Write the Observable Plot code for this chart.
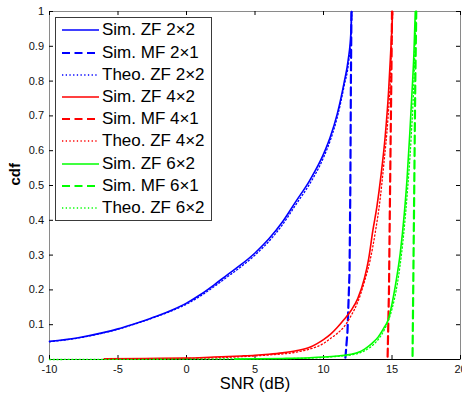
<!DOCTYPE html>
<html>
<head>
<meta charset="utf-8">
<script src="https://cdn.jsdelivr.net/npm/d3@7"></script>
<script src="https://cdn.jsdelivr.net/npm/@observablehq/plot@0.6"></script>
<style>
  html, body { margin: 0; padding: 0; background: white; overflow: hidden; }
  #wrap { position: relative; width: 462px; height: 397px; font-family: "Liberation Sans", Arial, sans-serif; }
  #legend { position: absolute; left: 55px; top: 17px; width: 155px; height: 202px; border: 1px solid #3a3a3a; background: white; }
  .row { position: absolute; left: 0; height: 22px; width: 155px; }
  .row svg { position: absolute; left: 6px; top: 0; }
  .row span { position: absolute; left: 46px; top: 0; line-height: 22px; font-size: 17px; color: #000; white-space: nowrap; }
</style>
</head>
<body>
<div id="wrap"><div id="legend"></div></div>
<script>
// ---- tick labels ----
const xTicks = [-10, -5, 0, 5, 10, 15, 20];
const yTicks = [0, 0.1, 0.2, 0.3, 0.4, 0.5, 0.6, 0.7, 0.8, 0.9, 1];

// ---- series values (SNR dB, cdf) ----
const simZF22_snr = [-10, -8, -6, -5, -4, -3, -2, -1, 0, 1, 2, 3, 4, 5, 6, 7, 8, 9, 10, 10.5, 11, 11.5, 11.8, 12.0, 12.05];
const simZF22_cdf = [0.052, 0.062, 0.078, 0.088, 0.100, 0.113, 0.127, 0.143, 0.162, 0.186, 0.214, 0.244, 0.273, 0.306, 0.346, 0.395, 0.455, 0.515, 0.590, 0.640, 0.705, 0.795, 0.860, 0.940, 1.0];

const simMF21_snr = [11.6, 11.75, 11.9, 11.96, 12.0, 12.04];
const simMF21_cdf = [0.005, 0.08, 0.25, 0.50, 0.80, 1.0];

const theoZF22_snr = [-10, -8, -6, -5, -4, -3, -2, -1, 0, 1, 2, 3, 4, 5, 6, 7, 8, 9, 10, 10.5, 11, 11.5, 11.85, 12.02, 12.07];
const theoZF22_cdf = [0.051, 0.061, 0.077, 0.087, 0.099, 0.112, 0.126, 0.141, 0.159, 0.182, 0.209, 0.238, 0.267, 0.300, 0.339, 0.387, 0.446, 0.505, 0.580, 0.630, 0.695, 0.785, 0.860, 0.940, 1.0];

const simZF42_snr = [-6, -3, 0, 2, 4, 5, 6, 7, 8, 9, 9.5, 10, 10.5, 11, 11.5, 12, 12.5, 13, 13.3, 13.6, 13.9, 14.2, 14.5, 14.75, 14.9, 15.05];
const simZF42_cdf = [0.002, 0.003, 0.004, 0.007, 0.010, 0.012, 0.015, 0.019, 0.025, 0.035, 0.045, 0.057, 0.072, 0.092, 0.115, 0.140, 0.175, 0.235, 0.290, 0.370, 0.440, 0.530, 0.640, 0.770, 0.880, 1.0];

const simMF41_snr = [14.68, 14.78, 14.85, 14.95, 15.0];
const simMF41_cdf = [0.008, 0.20, 0.46, 0.80, 1.0];

const theoZF42_snr = [-6, 0, 4, 6, 8, 9, 10, 10.5, 11, 11.5, 12, 12.5, 13, 13.4, 13.8, 14.1, 14.4, 14.7, 14.9, 15.05];
const theoZF42_cdf = [0.001, 0.003, 0.008, 0.013, 0.021, 0.030, 0.046, 0.060, 0.075, 0.094, 0.125, 0.165, 0.225, 0.285, 0.370, 0.450, 0.560, 0.690, 0.820, 1.0];

const simZF62_snr = [3.5, 5, 7, 9, 10, 11, 12, 12.5, 13, 13.5, 14, 14.4, 14.7, 15.0, 15.3, 15.6, 15.9, 16.1, 16.3, 16.45, 16.6, 16.7];
const simZF62_cdf = [0.001, 0.002, 0.003, 0.005, 0.007, 0.010, 0.015, 0.020, 0.030, 0.045, 0.065, 0.090, 0.112, 0.160, 0.225, 0.305, 0.420, 0.520, 0.650, 0.760, 0.880, 1.0];

const simMF61_snr = [16.5, 16.6, 16.7, 16.77];
const simMF61_cdf = [0.01, 0.40, 0.80, 1.0];

const theoZF62_snr = [-10, 0, 5, 8, 10, 11, 12, 13, 13.5, 14, 14.5, 15, 15.4, 15.8, 16.1, 16.4, 16.6, 16.75];
const theoZF62_cdf = [0.0, 0.001, 0.002, 0.003, 0.006, 0.009, 0.013, 0.025, 0.038, 0.058, 0.090, 0.145, 0.220, 0.340, 0.470, 0.640, 0.800, 1.0];

// ---- series definitions (labels + styles) ----
const BLUE = "#0000ff", RED = "#ff0000", GREEN = "#00ff00";
const SOLID = null, DASH = "8,4.5", DOT = "1.3,2.4";
const series = [
  {name: "Sim. ZF 2×2",  x: simZF22_snr,  y: simZF22_cdf,  color: BLUE,  dash: SOLID, w: 1.6, curve: "monotone-x"},
  {name: "Sim. MF 2×1",  x: simMF21_snr,  y: simMF21_cdf,  color: BLUE,  dash: DASH,  w: 2.2, curve: "linear"},
  {name: "Theo. ZF 2×2", x: theoZF22_snr, y: theoZF22_cdf, color: BLUE,  dash: DOT,   w: 1.3, curve: "monotone-x"},
  {name: "Sim. ZF 4×2",  x: simZF42_snr,  y: simZF42_cdf,  color: RED,   dash: SOLID, w: 1.6, curve: "monotone-x"},
  {name: "Sim. MF 4×1",  x: simMF41_snr,  y: simMF41_cdf,  color: RED,   dash: DASH,  w: 2.2, curve: "linear"},
  {name: "Theo. ZF 4×2", x: theoZF42_snr, y: theoZF42_cdf, color: RED,   dash: DOT,   w: 1.3, curve: "monotone-x"},
  {name: "Sim. ZF 6×2",  x: simZF62_snr,  y: simZF62_cdf,  color: GREEN, dash: SOLID, w: 1.6, curve: "monotone-x"},
  {name: "Sim. MF 6×1",  x: simMF61_snr,  y: simMF61_cdf,  color: GREEN, dash: DASH,  w: 2.2, curve: "linear"},
  {name: "Theo. ZF 6×2", x: theoZF62_snr, y: theoZF62_cdf, color: GREEN, dash: DOT,   w: 1.3, curve: "monotone-x"}
];

const lineMarks = series.map(s => {
  const rows = s.x.map((x, i) => ({snr: x, cdf: s.y[i]}));
  return Plot.line(rows, {x: "snr", y: "cdf", stroke: s.color, strokeWidth: s.w, strokeDasharray: s.dash, curve: s.curve});
});

const W = 462, H = 397, ML = 49, MR = 2, MT = 11, MB = 38;
const plotW = W - ML - MR, plotH = H - MT - MB;
const TICK = 4;

const chart = Plot.plot({
  width: W, height: H,
  marginLeft: ML, marginRight: MR, marginTop: MT, marginBottom: MB,
  x: {domain: [-10, 20]},
  y: {domain: [0, 1]},
  style: {fontFamily: "'Liberation Sans', Arial, sans-serif", fontSize: "11px", color: "#111", background: "white"},
  marks: [
    Plot.frame({stroke: "#8a8a8a"}),
    Plot.ruleY([0], {stroke: "#000"}),
    // inward ticks on all four sides
    Plot.tickX(xTicks, {x: d => d, insetTop: plotH - TICK, stroke: "#000"}),
    Plot.tickX(xTicks, {x: d => d, insetBottom: plotH - TICK, stroke: "#000"}),
    Plot.tickY(yTicks, {y: d => d, insetRight: plotW - TICK, stroke: "#000"}),
    Plot.tickY(yTicks, {y: d => d, insetLeft: plotW - TICK, stroke: "#000"}),
    ...lineMarks,
    Plot.axisX(xTicks, {tickSize: 0, tickPadding: 6, label: null, tickFormat: d => String(d), fill: "#111"}),
    Plot.axisY(yTicks, {tickSize: 0, tickPadding: 5.5, label: null, tickFormat: d => String(d), fill: "#111"}),
    Plot.text(["SNR (dB)"], {frameAnchor: "bottom", dy: 29.5, text: d => d, fontSize: 16.5, fill: "#000"}),
    Plot.text(["cdf"], {frameAnchor: "left", dx: -34, rotate: -90, text: d => d, fontSize: 15, fontWeight: "bold", fill: "#000"})
  ]
});
const wrap = document.getElementById("wrap");
wrap.insertBefore(chart, wrap.firstChild);

// ---- legend ----
const legend = document.getElementById("legend");
const ROW_H = 22.2, ROW0 = 1.4;
series.forEach((s, i) => {
  const row = document.createElement("div");
  row.className = "row";
  row.style.top = (ROW0 + i * ROW_H) + "px";
  const svg = d3.create("svg").attr("width", 38).attr("height", 22);
  svg.append("line").attr("x1", 0).attr("x2", 37).attr("y1", 11).attr("y2", 11)
    .attr("stroke", s.color).attr("stroke-width", s.w)
    .attr("stroke-dasharray", s.dash);
  row.appendChild(svg.node());
  const span = document.createElement("span");
  span.textContent = s.name;
  row.appendChild(span);
  legend.appendChild(row);
});
</script>
</body>
</html>
